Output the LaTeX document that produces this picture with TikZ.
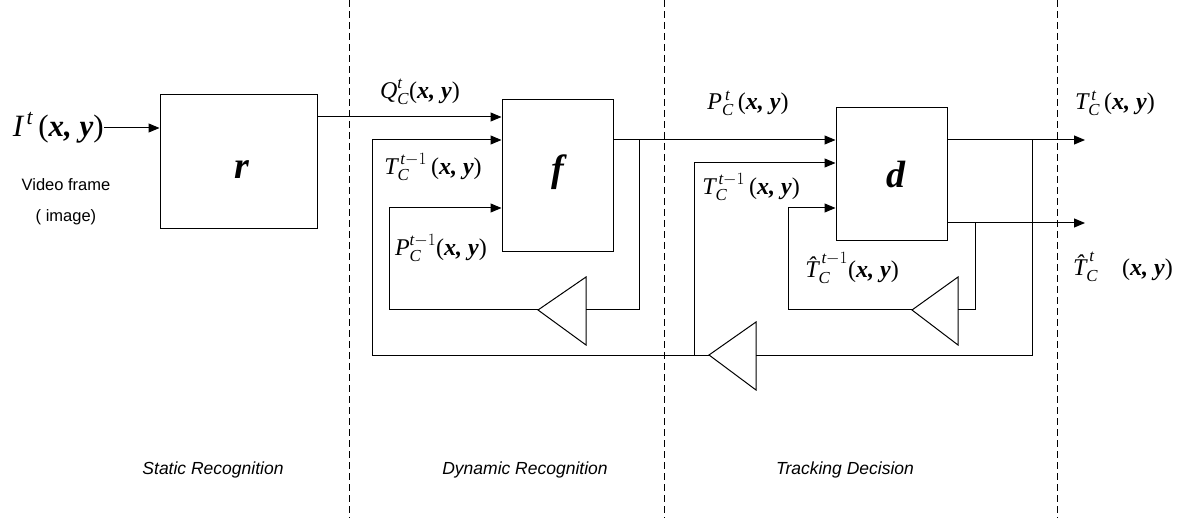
\documentclass[tikz,border=0pt]{standalone}
\usepackage{amsmath}
\usepackage{fontspec}
\setmainfont{Liberation Serif}
\newfontfamily\labelsans{Liberation Sans}
\usetikzlibrary{arrows.meta}
\tikzset{
  blockbox/.style={draw, line width=1pt, inner sep=0pt},
  wire/.style={line width=1pt},
  arr/.style={line width=1pt, -{Triangle[length=11pt,width=9pt]}},
  sep/.style={line width=0.8pt, dash pattern=on 7pt off 4pt},
  mathlbl/.style={inner sep=0pt, font=\fontsize{24}{28}\selectfont},
  bigletter/.style={inner sep=0pt, font=\fontsize{38}{42}\selectfont\bfseries\itshape},
  caption/.style={inner sep=0pt, font=\labelsans\fontsize{16.5}{18}\selectfont},
  stage/.style={inner sep=0pt, font=\labelsans\itshape\fontsize{17.5}{20}\selectfont},
  buffer/.style={draw, line width=1pt}
}
\newcommand{\xy}{(\textbf{\textit{x, y}})}
\newcommand{\hatT}{\textit{\^{T}}}
\begin{document}
\begin{tikzpicture}[x=1pt,y=-1pt]
\useasboundingbox (0,0) rectangle (1188,518);
\fill[white] (0,0) rectangle (1188,518);
% separators
\draw[sep] (349,0) -- (349,518);
\draw[sep] (664,0) -- (664,518);
\draw[sep] (1057,0) -- (1057,518);
% blocks
\node[blockbox, minimum width=157pt, minimum height=134pt] (r) at (238.5,162) {};
\node[blockbox, minimum width=111pt, minimum height=152pt] (f) at (557.5,176) {};
\node[blockbox, minimum width=111pt, minimum height=133pt] (d) at (891.5,174.5) {};
\node[bigletter] (rl) at (242,170) {r};
\node[bigletter] (fl) at (558,172) {f};
\node[bigletter] (dl) at (896,175) {d};
% input
\node[inner sep=0pt, anchor=east, font=\fontsize{31}{35}\selectfont] (Iin) at (104,128) {$\textit{I}^{\,\textit{t}}$\,\xy};
\node[caption] (vf) at (66,185) {Video frame};
\node[caption] (im) at (66,217) {( image)};
\draw[arr] (Iin.east) -- (r.west |- Iin.east);
% level coordinates
\coordinate (yQ) at (0,117);
\coordinate (yT) at (0,140);
\coordinate (yP) at (0,208);
\coordinate (yTd) at (0,163);
\coordinate (yO2) at (0,223);
% buffers (triangles)
\coordinate (t1tip) at (538,310); \coordinate (t1back) at (586,310);
\draw[buffer] (538,310) -- (586,277) -- (586,345) -- cycle;
\coordinate (t2tip) at (709,355); \coordinate (t2back) at (756,355);
\draw[buffer] (709,355) -- (756,322) -- (756,390) -- cycle;
\coordinate (t3tip) at (912,310); \coordinate (t3back) at (958,310);
\draw[buffer] (912,310) -- (958,277) -- (958,345) -- cycle;
% junctions
\coordinate (jf) at (639,140);
\coordinate (jd1) at (1032,140);
\coordinate (jd2) at (975,223);
\coordinate (jb) at (694,355);
\coordinate (o1) at (1085,140);
\coordinate (o2) at (1085,223);
% r -> f
\draw[arr] (r.east |- yQ) -- (f.west |- yQ);
% f -> d
\draw[arr] (f.east |- yT) -- (d.west |- yT);
% f feedback loop
\draw[wire] (jf) -- (jf |- t1back) -- (t1back);
\draw[arr] (t1tip) -- (389,310) -- (389,208) -- (f.west |- yP);
% d outputs
\draw[arr] (d.east |- yT) -- (o1);
\draw[arr] (d.east |- yO2) -- (o2);
% big loop
\draw[wire] (jd1) -- (jd1 |- t2back) -- (t2back);
\draw[arr] (t2tip) -- (372,355) -- (372,140) -- (f.west |- yT);
\draw[arr] (jb) -- (jb |- yTd) -- (d.west |- yTd);
% d hat loop
\draw[wire] (jd2) -- (jd2 |- t3back) -- (t3back);
\draw[arr] (t3tip) -- (788,310) -- (788,208) -- (d.west |- yP);
% labels
\node[mathlbl] (lQ) at (420,92) {$\textit{Q}^{\textit{t}}_{\textit{C}}$\xy};
\node[mathlbl] (lTf) at (433,167) {$\textit{T}^{\,\textit{t}-1}_{\textit{C}}$\,\xy};
\node[mathlbl] (lPf) at (441,248) {$\textit{P}^{\textit{t}-1}_{\textit{C}}$\xy};
\node[mathlbl] (lP) at (748,103) {$\textit{P}^{\,\textit{t}}_{\textit{C}}$\,\xy};
\node[mathlbl] (lTd) at (751,187) {$\textit{T}^{\,\textit{t}-1}_{\textit{C}}$\,\xy};
\node[mathlbl] (lTh1) at (852,268) {$\hatT^{\,\textit{t}-1}_{\textit{C}}$\xy};
\node[mathlbl] (lTt) at (1115,103) {$\textit{T}^{\,\textit{t}}_{\textit{C}}$\,\xy};
\node[mathlbl] (lTht) at (1123,267) {$\hatT^{\,\textit{t}}_{\textit{C}}$\quad\xy};
% stage captions
\node[stage] (s1) at (213,470) {Static Recognition};
\node[stage] (s2) at (525,470) {Dynamic Recognition};
\node[stage] (s3) at (845,470) {Tracking Decision};
\end{tikzpicture}
\end{document}
